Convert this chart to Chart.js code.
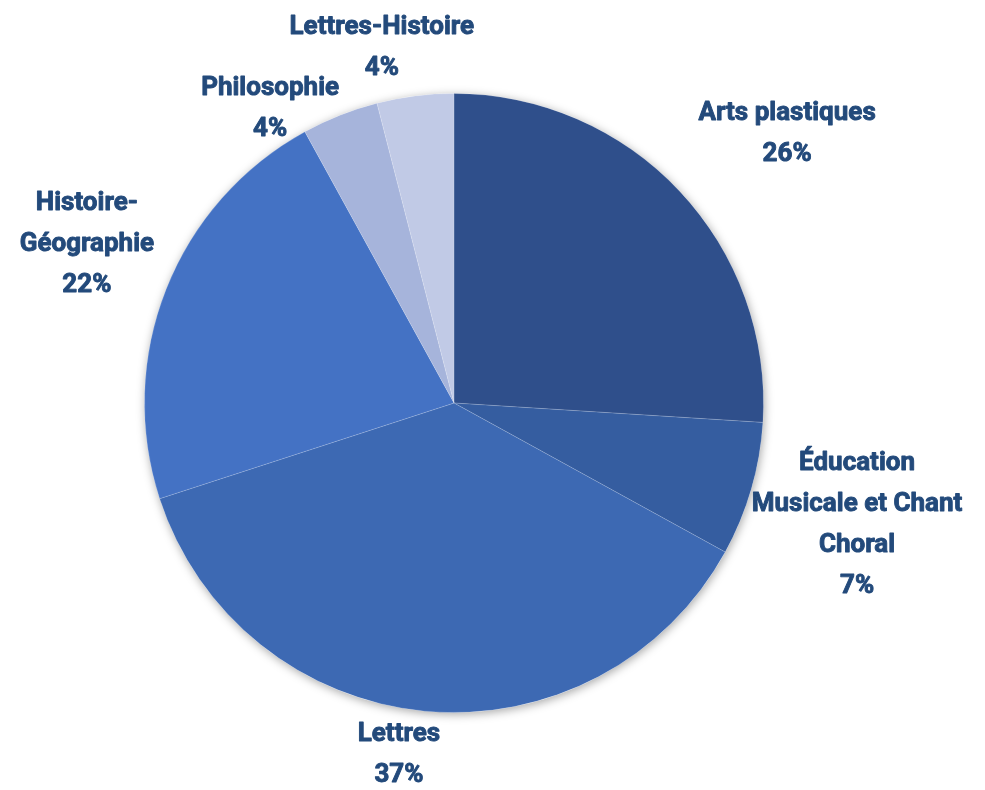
<!DOCTYPE html>
<html>
<head>
<meta charset="utf-8">
<script src="https://cdn.jsdelivr.net/npm/chart.js@4"></script>
<style>
  html, body { margin: 0; padding: 0; background: #ffffff; }
  #wrap { width: 985px; height: 790px; }
</style>
</head>
<body>
<div id="wrap"><canvas id="chart-matieres"></canvas></div>
<script>
// Données
const labels = ['Arts plastiques', 'Éducation Musicale et Chant Choral', 'Lettres', 'Histoire-Géographie', 'Philosophie', 'Lettres-Histoire'];
const labelLines = [
    ['Arts plastiques'],
    ['Éducation', 'Musicale et Chant', 'Choral'],
    ['Lettres'],
    ['Histoire-', 'Géographie'],
    ['Philosophie'],
    ['Lettres-Histoire']
];
const valeurs = [26, 7, 37, 22, 4, 4];
const couleurs = ['#2f4f8b', '#355da0', '#3d69b3', '#4472c4', '#a6b4db', '#c1cae6'];

// Placement des étiquettes (distance au centre, décalage angulaire en degrés)
const labelDist = [428, 421, 356, 400, 347, 362];
const labelNudge = [4.3, 0.6, 3.5, 1.8, -10.4, -4.3];

const fontFamily = '"Roboto", "DejaVu Sans Condensed", sans-serif';
const labelColor = '#234a7b';

// Ombre sous le camembert
const shadowPlugin = {
    id: 'shadow',
    beforeDatasetsDraw(chart) {
        const arc = chart.getDatasetMeta(0).data[0];
        if (!arc) return;
        const ctx = chart.ctx;
        ctx.save();
        ctx.shadowColor = 'rgba(0, 0, 0, 0.35)';
        ctx.shadowBlur = 10;
        ctx.shadowOffsetX = 1;
        ctx.shadowOffsetY = 2;
        ctx.fillStyle = '#ffffff';
        ctx.beginPath();
        ctx.arc(arc.x, arc.y, arc.outerRadius, 0, Math.PI * 2);
        ctx.fill();
        ctx.restore();
    }
};

// Étiquettes extérieures
const labelsPlugin = {
    id: 'outLabels',
    afterDatasetsDraw(chart) {
        const ctx = chart.ctx;
        const meta = chart.getDatasetMeta(0);
        const total = valeurs.reduce((a, b) => a + b, 0);
        ctx.save();
        ctx.font = 'bold 26px ' + fontFamily;
        ctx.fillStyle = labelColor;
        ctx.strokeStyle = labelColor;
        ctx.lineWidth = 0.9;
        ctx.lineJoin = 'round';
        ctx.textAlign = 'center';
        ctx.textBaseline = 'middle';
        meta.data.forEach((arc, i) => {
            const mid = (arc.startAngle + arc.endAngle) / 2 + labelNudge[i] * Math.PI / 180;
            const cx = arc.x + Math.cos(mid) * labelDist[i];
            const cy = arc.y + Math.sin(mid) * labelDist[i];
            const lines = labelLines[i].concat([Math.round(valeurs[i] / total * 100) + '%']);
            const lh = 41;
            const y0 = cy - (lines.length - 1) * lh / 2;
            lines.forEach((t, j) => {
                ctx.fillText(t, cx, y0 + j * lh);
                ctx.strokeText(t, cx, y0 + j * lh);
            });
        });
        ctx.restore();
    }
};

const ctx = document.getElementById('chart-matieres');
new Chart(ctx, {
    type: 'pie',
    data: {
        labels: labels,
        datasets: [{
            data: valeurs,
            backgroundColor: couleurs,
            borderColor: 'rgba(255, 255, 255, 0.15)',
            borderWidth: 1,
            hoverOffset: 0
        }]
    },
    options: {
        responsive: true,
        maintainAspectRatio: false,
        animation: false,
        layout: {
            padding: { left: 144, right: 221, top: 93, bottom: 77 }
        },
        plugins: {
            legend: { display: false },
            tooltip: { enabled: false },
            title: { display: false }
        }
    },
    plugins: [shadowPlugin, labelsPlugin]
});
</script>
</body>
</html>
